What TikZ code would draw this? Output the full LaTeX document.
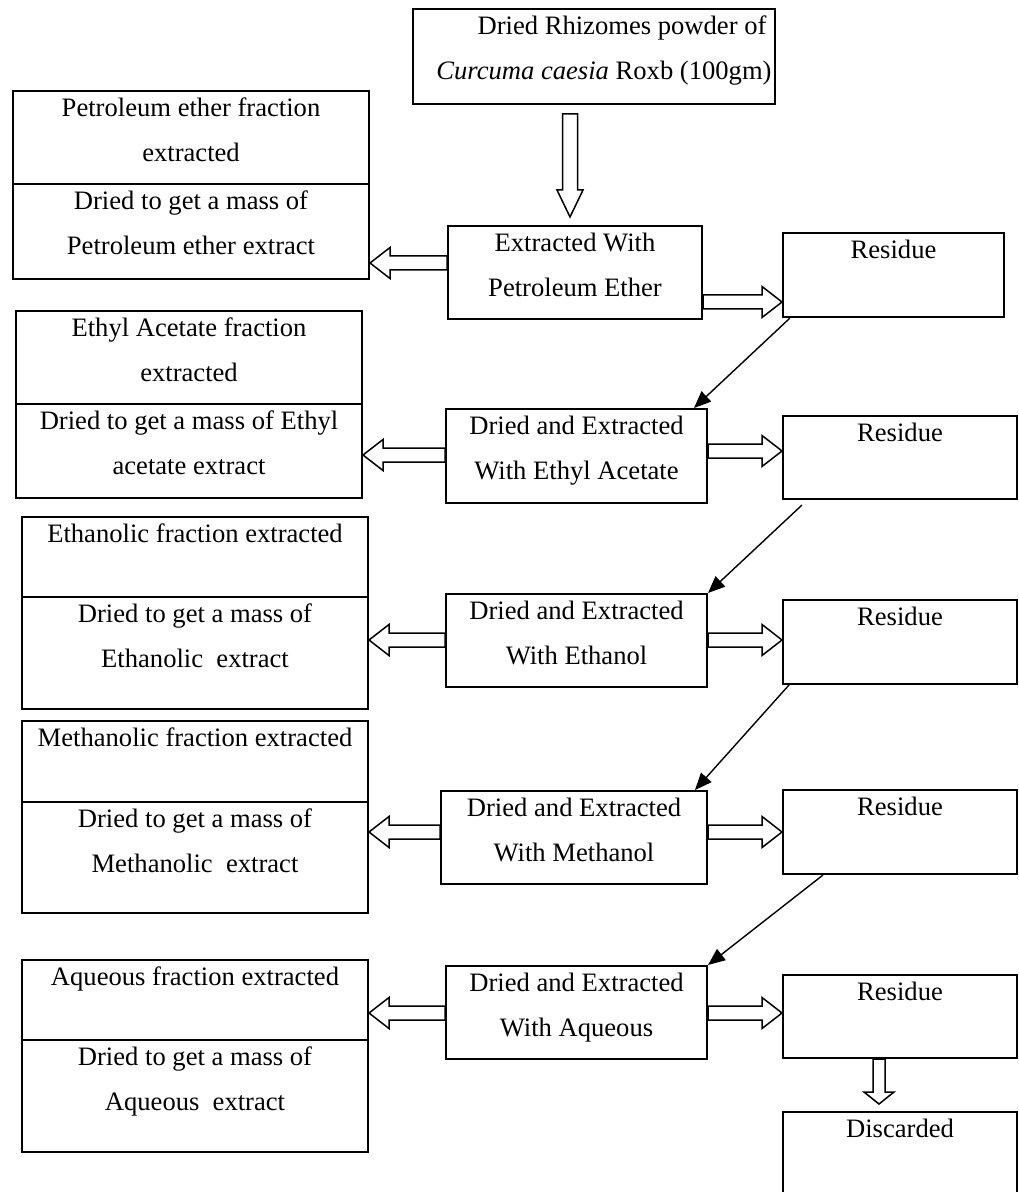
\documentclass[tikz,border=0pt]{standalone}
\usepackage{fontspec}
\setmainfont{Liberation Serif}
\usetikzlibrary{arrows.meta,calc}

% block arrow: from, to, shaft half width, head half width, head length
\newcommand{\hollowarrow}[5]{%
  \draw[line width=0.75pt,fill=white,line join=miter]
    let \p1=(#1), \p2=(#2), \n1={atan2(\y2-\y1,\x2-\x1)}, \n2={veclen(\x2-\x1,\y2-\y1)} in
    [shift={(\p1)},rotate=\n1] (0pt,-#3) -- (\n2*1pt-#5,-#3) -- (\n2*1pt-#5,-#4) -- (\n2*1pt,0pt)
    -- (\n2*1pt-#5,#4) -- (\n2*1pt-#5,#3) -- (0pt,#3) -- cycle;}

\begin{document}
\begin{tikzpicture}[x=0.5pt,y=-0.5pt,>={Triangle[length=8.5pt,width=7pt]},line width=0.7pt,
    font=\fontsize{13.3}{22.5}\selectfont]
  \tikzstyle{box}=[draw,rectangle,line width=1pt,inner sep=0pt,anchor=north west]
  \tikzstyle{txt}=[inner sep=0pt,align=center,anchor=north]
  \useasboundingbox (0,0) rectangle (1018,1192);

  % middle column
  \node[box,minimum width=181pt,minimum height=47.5pt] (Src) at (412,8) {};
  \node[box,minimum width=127pt,minimum height=46.5pt] (E1) at (447,225) {};
  \node[box,minimum width=130.5pt,minimum height=47pt] (E2) at (445,408) {};
  \node[box,minimum width=130.5pt,minimum height=46.5pt] (E3) at (445,593) {};
  \node[box,minimum width=133pt,minimum height=46.5pt] (E4) at (440,790) {};
  \node[box,minimum width=130.5pt,minimum height=46.5pt] (E5) at (445,965) {};

  % residues
  \node[box,minimum width=110.5pt,minimum height=42pt] (R1) at (782,232) {};
  \node[box,minimum width=117pt,minimum height=41.5pt] (R2) at (782,415) {};
  \node[box,minimum width=117pt,minimum height=42pt] (R3) at (782,599) {};
  \node[box,minimum width=117pt,minimum height=42pt] (R4) at (782,789) {};
  \node[box,minimum width=117pt,minimum height=41.5pt] (R5) at (782,974) {};
  \node[box,minimum width=117pt,minimum height=45pt] (D) at (782,1111) {};

  % fractions
  \node[box,minimum width=178pt,minimum height=46.5pt] (F1a) at (12,90) {};
  \node[box,minimum width=178pt,minimum height=47.5pt] (F1b) at (12,183) {};
  \node[box,minimum width=173pt,minimum height=46.5pt] (F2a) at (15,310) {};
  \node[box,minimum width=173pt,minimum height=47pt] (F2b) at (15,403) {};
  \node[box,minimum width=173pt,minimum height=40pt] (F3a) at (21,516) {};
  \node[box,minimum width=173pt,minimum height=56pt] (F3b) at (21,596) {};
  \node[box,minimum width=173pt,minimum height=40.5pt] (F4a) at (21,720) {};
  \node[box,minimum width=173pt,minimum height=55.5pt] (F4b) at (21,801) {};
  \node[box,minimum width=173pt,minimum height=40pt] (F5a) at (21,959) {};
  \node[box,minimum width=173pt,minimum height=56pt] (F5b) at (21,1039) {};

  % texts
  \node[txt] (SrcT) at ([shift={(5pt,-3.5pt)}]Src.north) {\hspace*{18pt}Dried Rhizomes powder of\\\textit{Curcuma caesia} Roxb (100gm)};
  \node[txt] (E1T) at ([yshift=-3.5pt]E1.north) {Extracted With\\Petroleum Ether};
  \node[txt] (E2T) at ([yshift=-3.5pt]E2.north) {Dried and Extracted\\With Ethyl Acetate};
  \node[txt] (E3T) at ([yshift=-3.5pt]E3.north) {Dried and Extracted\\With Ethanol};
  \node[txt] (E4T) at ([yshift=-3.5pt]E4.north) {Dried and Extracted\\With Methanol};
  \node[txt] (E5T) at ([yshift=-3.5pt]E5.north) {Dried and Extracted\\With Aqueous};
  \node[txt] (R1T) at ([yshift=-3.5pt]R1.north) {Residue};
  \node[txt] (R2T) at ([yshift=-3.5pt]R2.north) {Residue};
  \node[txt] (R3T) at ([yshift=-3.5pt]R3.north) {Residue};
  \node[txt] (R4T) at ([yshift=-3.5pt]R4.north) {Residue};
  \node[txt] (R5T) at ([yshift=-3.5pt]R5.north) {Residue};
  \node[txt] (DT) at ([yshift=-3.5pt]D.north) {Discarded};
  \node[txt] (F1aT) at ([yshift=-3.5pt]F1a.north) {Petroleum ether fraction\\extracted};
  \node[txt] (F1bT) at ([yshift=-3.5pt]F1b.north) {Dried to get a mass of\\Petroleum ether extract};
  \node[txt] (F2aT) at ([yshift=-3.5pt]F2a.north) {Ethyl Acetate fraction\\extracted};
  \node[txt] (F2bT) at ([yshift=-3.5pt]F2b.north) {Dried to get a mass of Ethyl\\acetate extract};
  \node[txt] (F3aT) at ([yshift=-3.5pt]F3a.north) {Ethanolic fraction extracted};
  \node[txt] (F3bT) at ([yshift=-3.5pt]F3b.north) {Dried to get a mass of\\Ethanolic~ extract};
  \node[txt] (F4aT) at ([yshift=-3.5pt]F4a.north) {Methanolic fraction extracted};
  \node[txt] (F4bT) at ([yshift=-3.5pt]F4b.north) {Dried to get a mass of\\Methanolic~ extract};
  \node[txt] (F5aT) at ([yshift=-3.5pt]F5a.north) {Aqueous fraction extracted};
  \node[txt] (F5bT) at ([yshift=-3.5pt]F5b.north) {Dried to get a mass of\\Aqueous~ extract};

  % heights of the block arrows
  \coordinate (y1l) at (0,263);
  \coordinate (y1r) at (0,302);
  \coordinate (y2l) at (0,455);
  \coordinate (y2r) at (0,451);
  \coordinate (y3) at (0,640);
  \coordinate (y4) at (0,832);
  \coordinate (y5) at (0,1013);

  \hollowarrow{$(Src.south -| E1.north)+(-2.5pt,-4.5pt)$}{$(E1.north)+(-2.5pt,4pt)$}{3.75pt}{6.5pt}{13.5pt}
  \hollowarrow{E1.west |- y1l}{F1b.east |- y1l}{3.5pt}{7.75pt}{10pt}
  \hollowarrow{E1.east |- y1r}{R1.west |- y1r}{3.5pt}{7.75pt}{10pt}
  \hollowarrow{E2.west |- y2l}{F2b.east |- y2l}{3.5pt}{7.75pt}{10pt}
  \hollowarrow{E2.east |- y2r}{R2.west |- y2r}{3.5pt}{7.75pt}{10pt}
  \hollowarrow{E3.west |- y3}{F3b.east |- y3}{3.5pt}{7.75pt}{10pt}
  \hollowarrow{E3.east |- y3}{R3.west |- y3}{3.5pt}{7.75pt}{10pt}
  \hollowarrow{E4.west |- y4}{F4b.east |- y4}{3.5pt}{7.75pt}{10pt}
  \hollowarrow{E4.east |- y4}{R4.west |- y4}{3.5pt}{7.75pt}{10pt}
  \hollowarrow{E5.west |- y5}{F5a.east |- y5}{3.5pt}{7.75pt}{10pt}
  \hollowarrow{E5.east |- y5}{R5.west |- y5}{3.5pt}{7.75pt}{10pt}
  \hollowarrow{$(R5.south)+(-10.5pt,0pt)$}{$(D.north)+(-10.5pt,3.5pt)$}{3pt}{7.5pt}{6pt}

  \draw[->] ([xshift=4pt]R1.south west) -- ([xshift=-7pt]E2.north east);
  \draw[->] ([shift={(10pt,-2.5pt)}]R2.south west) -- (E3.north east);
  \draw[->] ([xshift=3.5pt]R3.south west) -- ([xshift=-6.5pt]E4.north east);
  \draw[->] ([xshift=20.5pt]R4.south west) -- (E5.north east);
\end{tikzpicture}
\end{document}
